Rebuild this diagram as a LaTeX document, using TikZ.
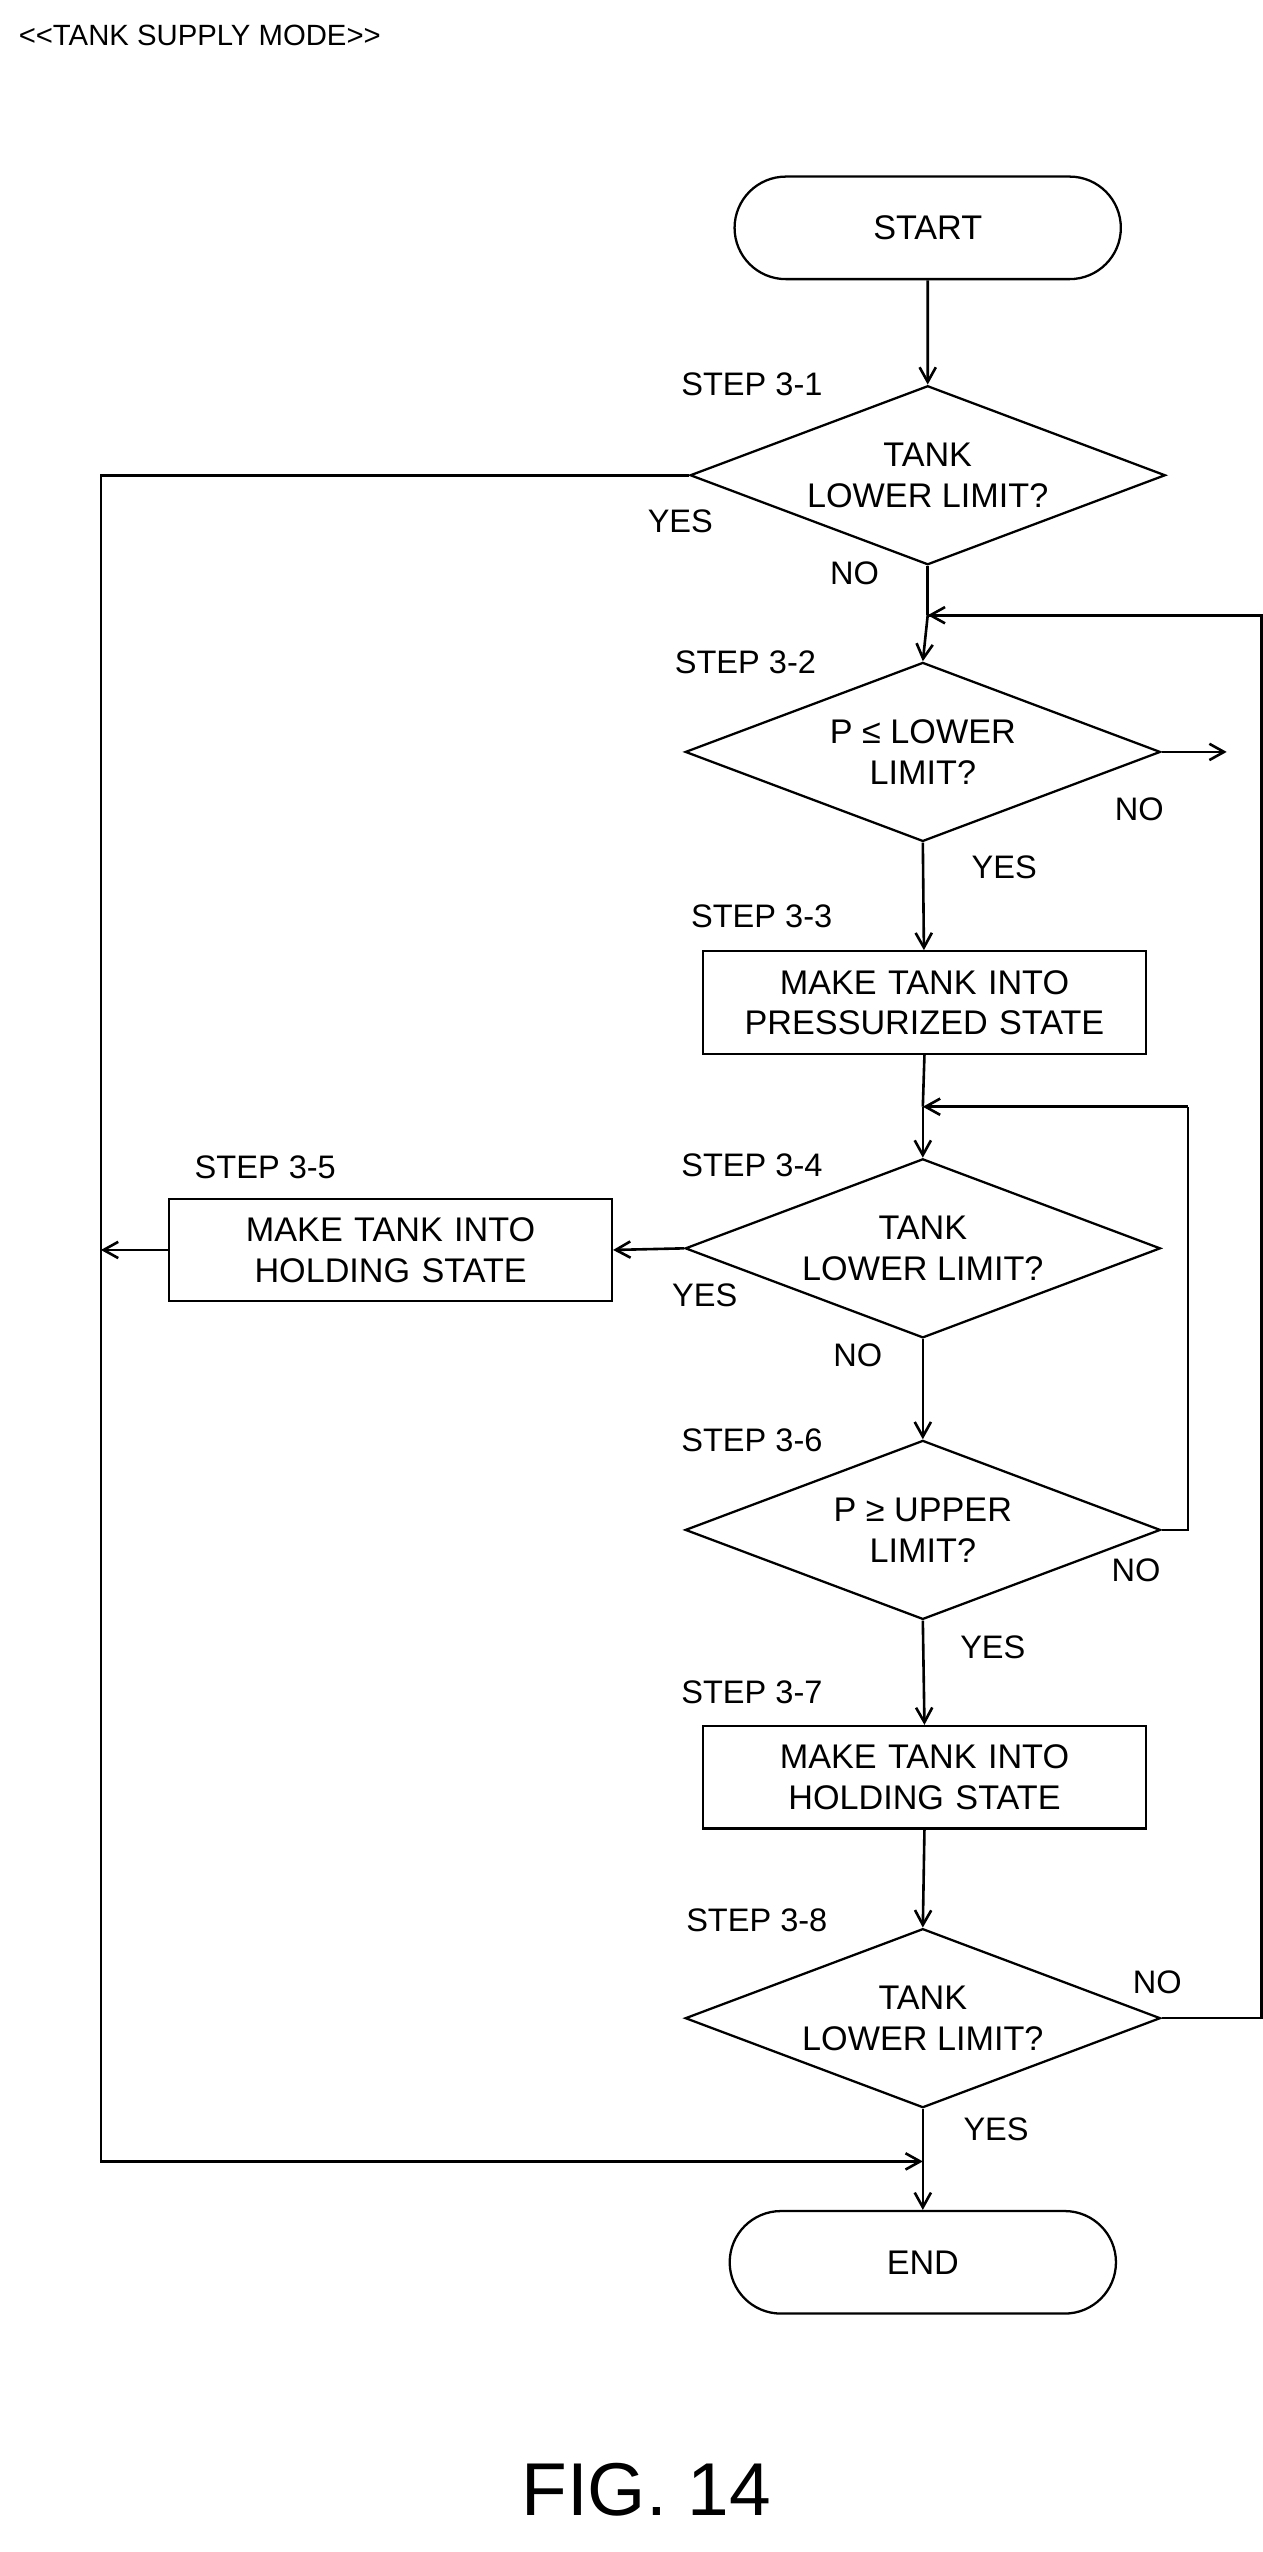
\documentclass[tikz,border=0pt]{standalone}
\usepackage{fontspec}
\setmainfont{Liberation Sans}
\usetikzlibrary{shapes.geometric,arrows.meta}
\begin{document}
\begin{tikzpicture}[x=1pt,y=-1pt,
  every node/.style={font=\fontsize{21}{25}\selectfont},
  ln/.style={line width=1.6pt},
  ar/.style={ln,-{Straight Barb[length=9pt,width=10pt]}},
  dia/.style={diamond,draw,line width=1.4pt,minimum width=292pt,minimum height=110pt,inner sep=0pt,align=center,aspect=2.65},
  box/.style={rectangle,draw,line width=1.4pt,minimum width=272pt,minimum height=63pt,align=center,inner sep=0pt,text width=265pt},
  term/.style={rounded rectangle,draw,line width=1.4pt,minimum width=244pt,minimum height=63pt},
  lab/.style={font=\fontsize{20}{24}\selectfont}]
\useasboundingbox (0,0) rectangle (776,1568);
\usetikzlibrary{shapes.misc}
\node[anchor=west,font=\fontsize{18}{22}\selectfont] (title) at (8,22) {<{}<TANK SUPPLY MODE>{}>};
\node[term,rounded rectangle] (start) at (570,140) {START};
\node[dia] (d1) at (570,292) {TANK\\LOWER LIMIT?};
\node[dia] (d2) at (567,462) {P ≤ LOWER\\LIMIT?};
\node[box] (b3) at (568,616) {MAKE TANK INTO\\PRESSURIZED STATE};
\node[dia] (d4) at (567,767) {TANK\\LOWER LIMIT?};
\node[box] (b5) at (240,768) {MAKE TANK INTO\\HOLDING STATE};
\node[dia] (d6) at (567,940) {P ≥ UPPER\\LIMIT?};
\node[box] (b7) at (568,1092) {MAKE TANK INTO\\HOLDING STATE};
\node[dia] (d8) at (567,1240) {TANK\\LOWER LIMIT?};
\node[term] (end) at (567,1390) {END};
\node[font=\fontsize{46}{50}\selectfont] (fig) at (397,1530) {FIG. 14};
\node[lab] (s1) at (462,236) {STEP 3-1};
\node[lab] (s2) at (458,407) {STEP 3-2};
\node[lab] (s3) at (468,563) {STEP 3-3};
\node[lab] (s4) at (462,716) {STEP 3-4};
\node[lab] (s5) at (163,717) {STEP 3-5};
\node[lab] (s6) at (462,885) {STEP 3-6};
\node[lab] (s7) at (462,1040) {STEP 3-7};
\node[lab] (s8) at (465,1180) {STEP 3-8};
\node[lab] (y1) at (418,320) {YES};
\node[lab] (n1) at (525,352) {NO};
\node[lab] (n2) at (700,497) {NO};
\node[lab] (y2) at (617,533) {YES};
\node[lab] (y4) at (433,796) {YES};
\node[lab] (n4) at (527,833) {NO};
\node[lab] (n6) at (698,965) {NO};
\node[lab] (y6) at (610,1012) {YES};
\node[lab] (n8) at (711,1218) {NO};
\node[lab] (y8) at (612,1308) {YES};
\coordinate (m1) at (570,378);
\coordinate (m4) at (567,680);
\coordinate (m8) at (567,1328);
\coordinate (r2) at (775,462);
\coordinate (lft) at (62,768);
\draw[ar] (start) -- (d1);
\draw[ln] (d1.south) -- (m1);
\draw[ar] (m1) -- (d2.north);
\draw[ar] (d2.south) -- (b3);
\draw[ln] (b3.south) -- (m4);
\draw[ar] (m4) -- (d4.north);
\draw[ar] (d4.south) -- (d6.north);
\draw[ar] (d6.south) -- (b7.north);
\draw[ar] (b7.south) -- (d8.north);
\draw[ln] (d8.south) -- (m8);
\draw[ar] (m8) -- (end.north);
\draw[ar] (d4.west) -- (b5.east);
\draw[ar] (b5.west) -- (lft);
\draw[ln] (d1.west) -| (lft);
\draw[ar] (lft) |- (m8);
\draw[ar] (d2.east) -- ++(40,0);
\draw[ln] (d8.east) -| (r2) |- (m1);
\draw[ar] (775,378) -- (m1);
\draw[ln] (d6.east) -| (730,680);
\draw[ar] (730,680) -- (m4);
\end{tikzpicture}
\end{document}
